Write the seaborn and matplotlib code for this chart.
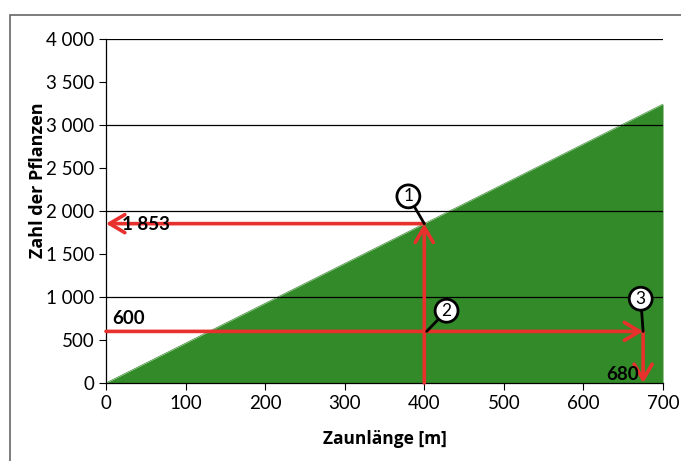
import numpy as np
import pandas as pd
import matplotlib.pyplot as plt
import seaborn as sns
from matplotlib.patches import Rectangle

# data
zaun_m = [0, 700]
pflanzen = [0, 3243]
x_ticks = [0, 100, 200, 300, 400, 500, 600, 700]
y_ticks = [0, 500, 1000, 1500, 2000, 2500, 3000, 3500, 4000]
y_grid = [1000, 2000, 3000, 4000]

# reading 1: 400 m -> 1853 plants, reading 2/3: 600 plants -> 680 m
read1_x, read1_y = 400, 1853
read2_y, read3_x = 600, 675
read1_label = '1 853'
read2_label = '600'
read3_label = '680'

green = '#338a29'
red = '#e8302c'

sns.set_style("white")
plt.rcParams['font.family'] = ['Lato', 'DejaVu Sans']
plt.rcParams['text.color'] = 'black'
plt.rcParams['axes.labelcolor'] = 'black'

fig = plt.figure(figsize=(6.81, 4.61), dpi=100)
ax = fig.add_axes([106/681, 1-383/461, 557/681, 344/461])

# outer frame
fig.patches.append(Rectangle((10/681, -0.05), 1.0, 1-15/461+0.05, transform=fig.transFigure,
                             fill=False, edgecolor='#666666', lw=1.2))

df = pd.DataFrame({'x': zaun_m, 'y': pflanzen})
sns.lineplot(x='x', y='y', data=df, ax=ax, color=green, lw=0.5)
ax.fill_between(df['x'], 0, df['y'], color=green, lw=0, zorder=1)

for g in y_grid:
    ax.axhline(g, color='black', lw=0.9, zorder=2)

ax.set_xlim(0, 700)
ax.set_ylim(0, 4000)
ax.set_xticks(x_ticks)
ax.set_yticks(y_ticks)
ax.set_xticklabels([str(v) for v in x_ticks])
ax.set_yticklabels([f'{v:,}'.replace(',', ' ') for v in y_ticks])
ax.tick_params(axis='both', labelsize=13.5, length=5, width=0.8, direction='out',
               colors='black', bottom=True, left=True)
for s in ['top', 'right']:
    ax.spines[s].set_visible(False)
for s in ['left', 'bottom']:
    ax.spines[s].set_color('black')
    ax.spines[s].set_linewidth(0.9)
    ax.spines[s].set_zorder(3)

ax.set_xlabel('Zaunlänge [m]', fontsize=12.5, fontweight='bold', family='Open Sans')
ax.set_ylabel('Zahl der Pflanzen', fontsize=13, fontweight='bold', family='Open Sans')
ax.xaxis.set_label_coords(0.5, -0.137)
ax.yaxis.set_label_coords(-0.106, 0.59)

arrow = dict(arrowstyle='->,head_length=1.1,head_width=0.65', color=red, lw=2.6, shrinkA=0, shrinkB=0)
# reading 1
ax.annotate('', xy=(read1_x, read1_y), xytext=(read1_x, 0), arrowprops=arrow, zorder=4)
ax.annotate('', xy=(0, read1_y), xytext=(read1_x, read1_y), arrowprops=arrow, zorder=4)
# reading 2 / 3
ax.annotate('', xy=(read3_x, read2_y), xytext=(0, read2_y), arrowprops=arrow, zorder=4)
ax.annotate('', xy=(read3_x, 0), xytext=(read3_x, read2_y), arrowprops=arrow, zorder=4)

ax.text(20, read1_y - 10, read1_label, fontsize=13.5, fontweight='bold', va='center', ha='left', zorder=5)
ax.text(8, read2_y + 50, read2_label, fontsize=13.5, fontweight='bold', va='bottom', ha='left', zorder=5)
ax.text(read3_x - 5, 5, read3_label, fontsize=13.5, fontweight='bold', va='bottom', ha='right', zorder=5)

# numbered markers with leader lines
markers = [('1', (380, 2170), (read1_x, read1_y)),
           ('2', (428, 840), (read1_x + 3, read2_y)),
           ('3', (672, 980), (read3_x, read2_y))]
for num, (cx, cy), (px, py) in markers:
    ax.plot([cx, px], [cy, py], color='black', lw=2, zorder=6, clip_on=False)
    ax.text(cx, cy, num, fontsize=12.5, ha='center', va='center', zorder=7,
            bbox=dict(boxstyle='circle,pad=0.2', fc='white', ec='black', lw=2))

fig.savefig('out.png', dpi=100)
plt.close()
